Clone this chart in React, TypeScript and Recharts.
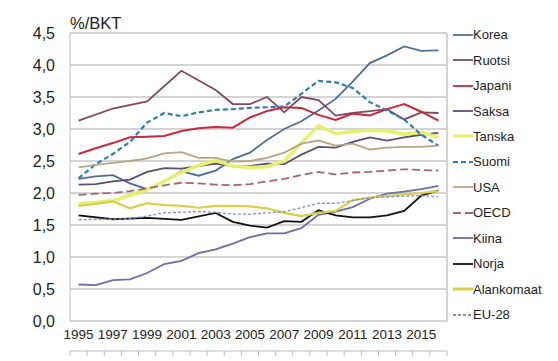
import React from 'react';
import {
  LineChart,
  Line,
  XAxis,
  YAxis,
  CartesianGrid,
  Legend,
  ReferenceLine,
} from 'recharts';

const years = [
  1995, 1996, 1997, 1998, 1999, 2000, 2001, 2002, 2003, 2004, 2005,
  2006, 2007, 2008, 2009, 2010, 2011, 2012, 2013, 2014, 2015, 2016,
];

const korea = [2.22, 2.26, 2.28, 2.15, 2.06, 2.18, 2.34, 2.27, 2.35, 2.53, 2.63, 2.83, 3.0, 3.12, 3.29, 3.47, 3.74, 4.03, 4.15, 4.29, 4.22, 4.23];
const ruotsi = [3.13, null, 3.32, null, 3.43, null, 3.91, null, 3.61, 3.39, 3.39, 3.5, 3.26, 3.5, 3.45, 3.21, 3.25, 3.28, 3.31, 3.15, 3.26, 3.25];
const japani = [2.61, 2.7, 2.78, 2.87, 2.88, 2.89, 2.97, 3.01, 3.03, 3.02, 3.18, 3.28, 3.34, 3.33, 3.22, 3.14, 3.24, 3.21, 3.31, 3.39, 3.27, 3.13];
const saksa = [2.13, 2.14, 2.18, 2.21, 2.33, 2.39, 2.38, 2.42, 2.46, 2.42, 2.42, 2.46, 2.45, 2.6, 2.72, 2.71, 2.8, 2.87, 2.82, 2.87, 2.91, 2.94];
const tanska = [1.83, 1.85, 1.88, null, 2.05, null, 2.32, 2.43, 2.51, 2.42, 2.4, 2.41, 2.5, 2.78, 3.05, 2.93, 2.96, 2.98, 2.97, 2.92, 2.95, 2.87];
const suomi = [2.23, 2.45, 2.61, 2.8, 3.1, 3.25, 3.2, 3.26, 3.3, 3.31, 3.33, 3.34, 3.35, 3.55, 3.75, 3.73, 3.64, 3.42, 3.29, 3.15, 2.91, 2.74];
const usa = [2.4, 2.44, 2.47, 2.5, 2.54, 2.62, 2.64, 2.55, 2.55, 2.49, 2.5, 2.55, 2.63, 2.77, 2.82, 2.74, 2.77, 2.68, 2.71, 2.72, 2.72, 2.74];
const oecd = [1.97, 1.99, 2.0, 2.03, 2.07, 2.12, 2.16, 2.15, 2.13, 2.12, 2.14, 2.18, 2.22, 2.28, 2.33, 2.29, 2.32, 2.33, 2.35, 2.37, 2.36, 2.35];
const kiina = [0.57, 0.56, 0.64, 0.65, 0.75, 0.89, 0.94, 1.06, 1.12, 1.21, 1.31, 1.37, 1.37, 1.45, 1.66, 1.71, 1.78, 1.91, 1.99, 2.02, 2.06, 2.11];
const norja = [1.65, null, 1.59, null, 1.61, null, 1.58, null, 1.69, 1.55, 1.49, 1.46, 1.56, 1.55, 1.73, 1.65, 1.62, 1.62, 1.65, 1.72, 1.96, 2.04];
const alankomaat = [1.8, 1.83, 1.87, 1.76, 1.84, 1.81, 1.8, 1.77, 1.8, 1.8, 1.79, 1.76, 1.69, 1.64, 1.69, 1.72, 1.89, 1.93, 1.95, 1.98, 2.0, 2.03];
const eu28 = [1.58, 1.59, 1.59, 1.6, 1.64, 1.69, 1.7, 1.71, 1.7, 1.67, 1.67, 1.69, 1.71, 1.77, 1.84, 1.84, 1.88, 1.93, 1.94, 1.95, 1.96, 1.94];

const yTicks = [0, 0.5, 1, 1.5, 2, 2.5, 3, 3.5, 4, 4.5];
const yearTicks = [1995, 1997, 1999, 2001, 2003, 2005, 2007, 2009, 2011, 2013, 2015];
const boundaryTicks = [...years.map((y) => y - 0.5), 2016.5];

const series = [
  { key: 'Korea', values: korea, color: '#4e6f96', width: 1.8 },
  { key: 'Ruotsi', values: ruotsi, color: '#7e4a5d', width: 1.8 },
  { key: 'Japani', values: japani, color: '#c9283e', width: 2 },
  { key: 'Saksa', values: saksa, color: '#5b4e73', width: 1.8 },
  { key: 'Tanska', values: tanska, color: '#e6f16a', width: 3.5 },
  { key: 'Suomi', values: suomi, color: '#2f7db8', width: 2.2, dash: '5 3' },
  { key: 'USA', values: usa, color: '#b5a586', width: 1.8 },
  { key: 'OECD', values: oecd, color: '#a6656f', width: 1.8, dash: '8 4' },
  { key: 'Kiina', values: kiina, color: '#6b6fa3', width: 1.8 },
  { key: 'Norja', values: norja, color: '#111111', width: 1.8 },
  { key: 'Alankomaat', values: alankomaat, color: '#d9d04a', width: 2.2 },
  { key: 'EU-28', values: eu28, color: '#7f8fc0', width: 1.3, dash: '3 2' },
];

const data = years.map((year, i) => {
  const row: Record<string, number | null> = { year };
  series.forEach((s) => {
    row[s.key] = s.values[i];
  });
  return row;
});

const font = '"Liberation Sans", Arial, sans-serif';

function LegendList() {
  return (
    <div style={{ width: 100, paddingLeft: 6, boxSizing: 'border-box', fontFamily: font }}>
      {series.map((s) => (
        <div
          key={s.key}
          style={{ height: 25.45, display: 'flex', alignItems: 'center', fontSize: 13, color: '#222' }}
        >
          <svg width={20} height={10} style={{ display: 'block' }}>
            <line
              x1={0}
              y1={5}
              x2={20}
              y2={5}
              stroke={s.color}
              strokeWidth={s.key === 'Tanska' || s.key === 'Alankomaat' ? 3 : 1.8}
              strokeDasharray={s.dash}
            />
          </svg>
          <span>{s.key}</span>
        </div>
      ))}
    </div>
  );
}

export default function App() {
  return (
    <div style={{ position: 'relative', width: 558, height: 361, background: '#fff' }}>
      <style>{'body{margin:0}'}</style>
      <div
        style={{
          position: 'absolute',
          left: 70,
          top: 14,
          fontFamily: font,
          fontSize: 16.5,
          color: '#222',
        }}
      >
        %/BKT
      </div>
      <LineChart
        width={558}
        height={361}
        data={data}
        margin={{ top: 33, right: 11, left: 10, bottom: 9 }}
      >
        <CartesianGrid vertical={false} stroke="#c6c6c6" strokeWidth={1.5} />
        <XAxis
          xAxisId="frame"
          dataKey="year"
          type="number"
          domain={[1994.5, 2016.5]}
          ticks={boundaryTicks}
          tick={() => <g />}
          height={1}
          stroke="#bdbdbd"
          tickSize={5}
          interval={0}
        />
        <XAxis
          dataKey="year"
          type="number"
          domain={[1994.5, 2016.5]}
          ticks={yearTicks}
          interval={0}
          tickLine={false}
          axisLine={false}
          height={30}
          tickSize={6}
          tickMargin={2}
          tick={{ fontSize: 13.5, fill: '#222', fontFamily: font }}
        />
        <YAxis
          domain={[0, 4.5]}
          ticks={yTicks}
          interval={0}
          width={60}
          tickLine={false}
          stroke="#bdbdbd"
          tickMargin={9}
          tickFormatter={(v: number) => v.toFixed(1).replace('.', ',')}
          tick={{ fontSize: 16, fill: '#222', fontFamily: font }}
        />
        <ReferenceLine x={2016.5} stroke="#c6c6c6" strokeWidth={1.5} />
        <Legend
          layout="vertical"
          align="right"
          verticalAlign="top"
          wrapperStyle={{ top: 22, width: 100 }}
          content={() => <LegendList />}
        />
        {series.map((s) => (
          <Line
            key={s.key}
            dataKey={s.key}
            stroke={s.color}
            strokeWidth={s.width}
            strokeDasharray={s.dash}
            dot={false}
            connectNulls
            isAnimationActive={false}
          />
        ))}
      </LineChart>
    </div>
  );
}
